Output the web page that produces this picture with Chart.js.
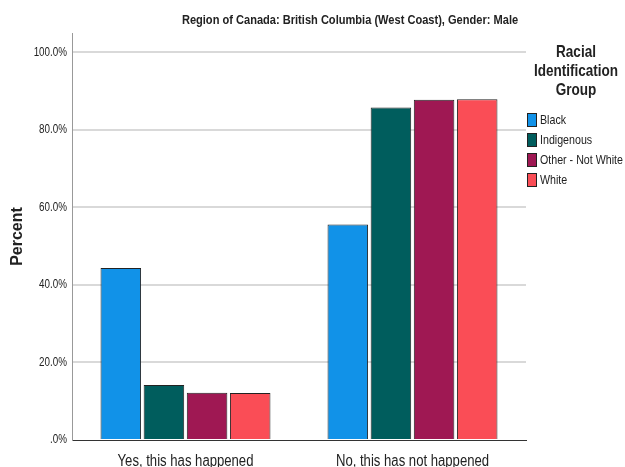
<!DOCTYPE html>
<html>
<head>
<meta charset="utf-8">
<script src="https://cdn.jsdelivr.net/npm/chart.js@4.4.1/dist/chart.umd.min.js"></script>
<style>
  html, body { margin: 0; padding: 0; background: #fff; }
</style>
</head>
<body>
<canvas id="barChart" width="625" height="467"></canvas>
<script>
// Chart data
const categories = ['Yes, this has happened', 'No, this has not happened'];
const groups = ['Black', 'Indigenous', 'Other - Not White', 'White'];
const black = [44.4, 55.6];
const indigenous = [14.2, 85.8];
const otherNotWhite = [12.2, 87.8];
const white = [12.1, 87.9];
const yTicks = [0, 20, 40, 60, 80, 100];

const chartTitle = 'Region of Canada: British Columbia (West Coast), Gender: Male';
const legendTitle = ['Racial', 'Identification', 'Group'];
const groupColors = ['#1192e8', '#005d5d', '#9f1853', '#fa4d56'];
const narrow = "'Liberation Sans Narrow', 'Liberation Sans', Arial, sans-serif";

const canvas = document.getElementById('barChart');
const ctx2d = canvas.getContext('2d');

// No Arial Narrow here: squeeze Liberation Sans horizontally when a "Narrow" font is asked for
const rawFillText = ctx2d.fillText.bind(ctx2d);
ctx2d.fillText = function (text, x, y, maxWidth) {
  if (this.font.indexOf('Narrow') === -1) return rawFillText(text, x, y, maxWidth);
  this.save();
  this.translate(x, y);
  this.scale(0.82, 1);
  rawFillText(text, 0, 0);
  this.restore();
};

// Title and legend drawn by hand (SPSS style)
const sideText = {
  id: 'sideText',
  afterDraw(chart) {
    const ctx = chart.ctx;
    ctx.save();
    ctx.fillStyle = '#222';
    ctx.textAlign = 'center';
    ctx.textBaseline = 'middle';
    ctx.font = 'bold 13.5px ' + narrow;
    ctx.fillText(chartTitle, 350, 20);
    ctx.font = 'bold 16.5px ' + narrow;
    legendTitle.forEach((line, i) => ctx.fillText(line, 576, 52 + i * 19));
    ctx.font = '13px ' + narrow;
    ctx.textAlign = 'left';
    chart.data.datasets.forEach((ds, i) => {
      const y = 120 + i * 20;
      ctx.fillStyle = ds.backgroundColor;
      ctx.fillRect(527, y - 7, 10, 14);
      ctx.strokeStyle = '#222';
      ctx.lineWidth = 1;
      ctx.strokeRect(527.5, y - 6.5, 9, 13);
      ctx.fillStyle = '#222';
      ctx.fillText(ds.label, 540, y);
    });
    ctx.restore();
  }
};

const seriesValues = [black, indigenous, otherNotWhite, white];

new Chart(ctx2d, {
  type: 'bar',
  data: {
    labels: categories,
    datasets: groups.map((g, i) => ({
      label: g,
      data: seriesValues[i],
      backgroundColor: groupColors[i],
      borderColor: '#222',
      borderWidth: 1,
      categoryPercentage: 0.76,
      barPercentage: 0.94
    }))
  },
  options: {
    responsive: false,
    animation: false,
    devicePixelRatio: 1,
    layout: { padding: { top: 33, right: 99, left: 0, bottom: 0 } },
    plugins: {
      legend: { display: false },
      title: { display: false },
      tooltip: { enabled: false }
    },
    scales: {
      x: {
        grid: { display: false },
        border: { display: true, color: '#333', width: 1 },
        ticks: {
          color: '#222',
          padding: 4,
          font: { family: narrow, size: 16 }
        },
        afterFit: scale => { scale.height = 27; }
      },
      y: {
        min: 0,
        max: 105,
        afterBuildTicks: scale => {
          scale.ticks = yTicks.map(v => ({ value: v }));
        },
        grid: {
          drawTicks: false,
          lineWidth: 2,
          color: ctx => (ctx.tick && ctx.tick.value === 0) ? 'rgba(0,0,0,0)' : '#d9d9d9'
        },
        border: { display: true, color: '#999', width: 1 },
        ticks: {
          color: '#222',
          padding: 5,
          font: { family: narrow, size: 12 },
          callback: v => v === 0 ? '.0%' : v.toFixed(1) + '%'
        },
        title: {
          display: true,
          text: 'Percent',
          color: '#222',
          padding: { top: 8, bottom: 0 },
          font: { family: "'Liberation Sans', Arial, sans-serif", size: 16, weight: 'bold' }
        },
        afterFit: scale => { scale.width = 72; }
      }
    }
  },
  plugins: [sideText]
});
</script>
</body>
</html>
